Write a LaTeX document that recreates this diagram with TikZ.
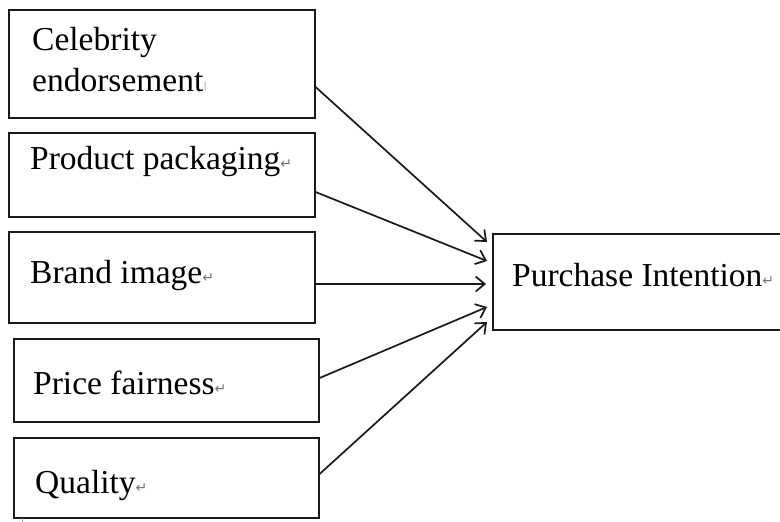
\documentclass[tikz,border=0pt]{standalone}
\usepackage{fontspec}
\setmainfont{Liberation Serif}
\newfontfamily\markfont{DejaVu Sans}
\usetikzlibrary{arrows.meta}

\tikzset{
  factor/.style={draw=black!90, line width=1.6pt, rectangle, inner sep=0pt, anchor=north west},
  label/.style={anchor=base west, inner sep=0pt, font=\fontsize{33.5}{40}\selectfont, text=black},
  link/.style={draw=black!90, line width=1.7pt, -{Straight Barb[length=9pt,width=15pt,line width=1.7pt]}},
}
\newcommand{\parmark}{{\markfont\fontsize{14}{15}\selectfont\color{black!55}\raisebox{0.5pt}{↵}}}

\begin{document}
\begin{tikzpicture}[x=1pt, y=-1pt]
  \clip (0,0) rectangle (780,522);
  \fill[white] (0,0) rectangle (780,522);

  % factor boxes on the left
  \node[factor, minimum width=306pt, minimum height=108pt] (b1) at (8,9) {};
  \node[factor, minimum width=306pt, minimum height=84pt]  (b2) at (8,132) {};
  \node[factor, minimum width=306pt, minimum height=91pt]  (b3) at (8,231) {};
  \node[factor, minimum width=305pt, minimum height=83pt]  (b4) at (13,338) {};
  \node[factor, minimum width=305pt, minimum height=80pt]  (b5) at (13,437) {};

  % outcome box, running off the right edge
  \node[factor, minimum width=300pt, minimum height=96pt]  (t) at (492,233) {};

  % box texts
  \node[label] (l1a) at (32,50)  {Celebrity};
  \node[label] (l1b) at (32,91)  {endorsement{\markfont\fontsize{12}{13}\selectfont\color{black!35}\raisebox{1pt}{⁞}}};
  \node[label] (l2)  at (30,169) {Product packaging\parmark};
  \node[label] (l3)  at (30,283) {Brand image\parmark};
  \node[label] (l4)  at (33,394) {Price fairness\parmark};
  \node[label] (l5)  at (35,493) {Quality\parmark};
  \node[label] (lt)  at (512,286) {Purchase Intention\parmark};

  % end points on the outcome box
  \coordinate (e1) at (487,242);
  \coordinate (e2) at (487,261);
  \coordinate (e3) at (486,284);
  \coordinate (e4) at (487,307);
  \coordinate (e5) at (487,322);

  % arrows from each factor to the outcome
  \draw[link] (b1.east |- 0,87)  -- (e1);
  \draw[link] (b2.east |- 0,192) -- (e2);
  \draw[link] (b3.east |- 0,284) -- (e3);
  \draw[link] (b4.east |- 0,378) -- (e4);
  \draw[link] (b5.east |- 0,474) -- (e5);

  % small cursor tick below the last box
  \draw[black!40, line width=0.8pt] (22,518) -- (22,522);
\end{tikzpicture}
\end{document}
